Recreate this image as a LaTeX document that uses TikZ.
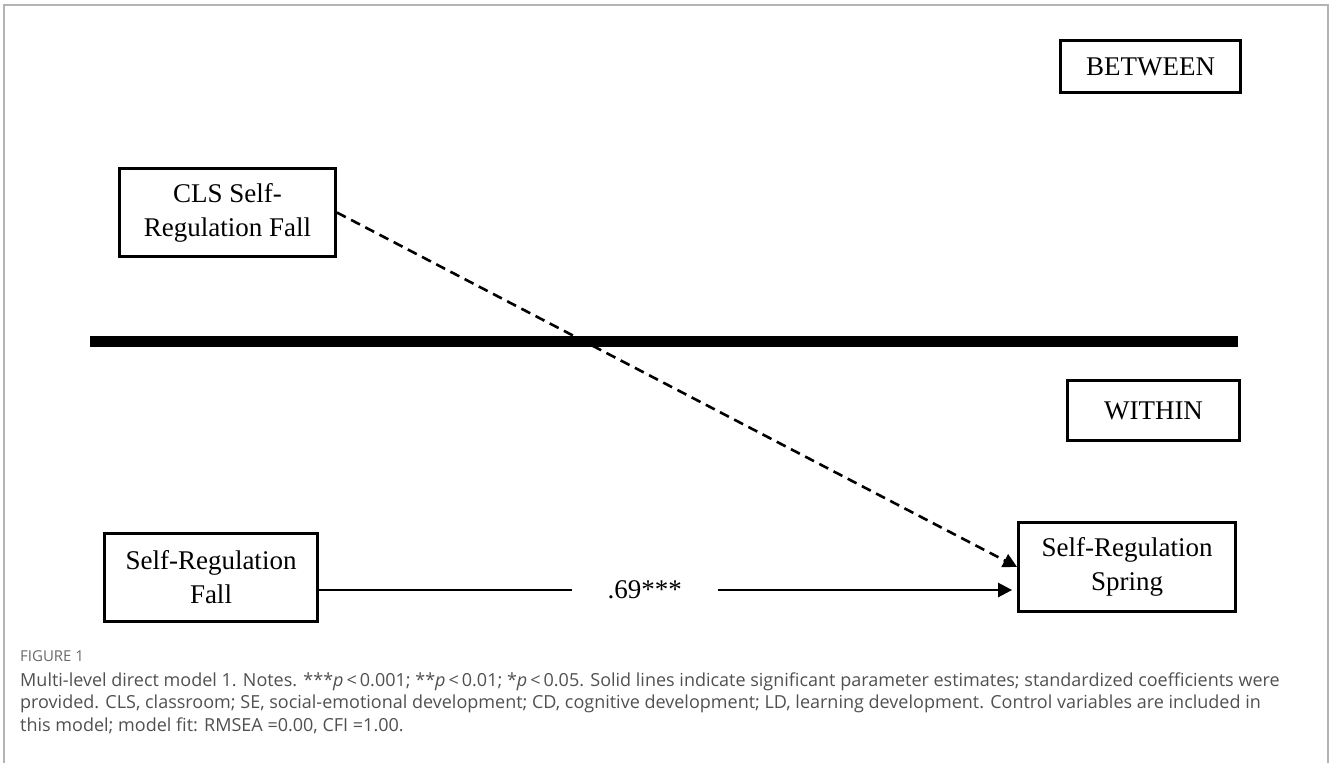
\documentclass[tikz,border=0pt]{standalone}
\usepackage{fontspec}
\setmainfont{Liberation Serif}
\newfontfamily\capfont{Open Sans}
\usetikzlibrary{arrows.meta}
\definecolor{framegray}{HTML}{B4B4B4}
\definecolor{captext}{HTML}{505050}
\definecolor{caphead}{HTML}{6A6A6A}
\begin{document}
\begin{tikzpicture}[x=1pt,y=-1pt,
  varbox/.style={draw=black, line width=2.8pt, align=center, inner sep=0pt,
    font=\fontsize{27}{34}\selectfont},
  conn/.style={line width=2.6pt, -{Triangle[length=14pt,width=14pt]}},
  dashconn/.style={conn, dash pattern=on 10pt off 6pt},
  caphd/.style={anchor=base west, inner sep=0pt, text=caphead, font=\capfont\fontsize{15}{17}\selectfont},
  capline/.style={anchor=base west, inner sep=0pt, text=captext, font=\capfont\fontsize{18}{22}\selectfont}
]
\useasboundingbox (0,0) rectangle (1330,763);
% outer frame
\draw[framegray, line width=2pt] (4,763) -- (4,5) -- (1328,5) -- (1328,763);

% level labels
\node[varbox, minimum width=180pt, minimum height=52pt] (between) at (1150.5,66.5) {BETWEEN};
\node[varbox, minimum width=172pt, minimum height=60pt] (within) at (1153.5,410.5) {WITHIN};

% level divider
\coordinate (divL) at (90,341.5);
\coordinate (divR) at (1238,341.5);
\draw[line width=10.5pt] (divL) -- (divR);

% variables
\node[varbox, minimum width=216pt, minimum height=88pt] (cls) at (227.5,212.5) {CLS Self-\\Regulation Fall};
\node[varbox, minimum width=213pt, minimum height=88pt] (fall) at (211,577.5) {Self-Regulation\\Fall};
\node[varbox, minimum width=217pt, minimum height=89pt] (spring) at (1127,567) {Self-Regulation\\Spring};

% paths
\draw[dashconn] (cls.east) -- (spring.west);
\draw[conn] ([yshift=-12.5pt]fall.east) -- node[pos=0.47, fill=white, inner xsep=36pt, inner ysep=4pt, font=\fontsize{27}{30}\selectfont] (b1) {.69***} ([xshift=-5pt,yshift=-23pt]spring.west);

% caption
\node[caphd] (fig) at (20,661) {FIGURE 1};
\node[capline] (c1) at (20,686) {Multi-level direct model 1. Notes. ***{\itshape p}\,<\,0.001; **{\itshape p}\,<\,0.01; *{\itshape p}\,<\,0.05. Solid lines indicate significant parameter estimates; standardized coefficients were};
\node[capline] (c2) at (20,708.5) {provided. CLS, classroom; SE, social-emotional development; CD, cognitive development; LD, learning development. Control variables are included in};
\node[capline] (c3) at (20,731) {this model; model fit: RMSEA =0.00, CFI =1.00.};
\end{tikzpicture}
\end{document}
